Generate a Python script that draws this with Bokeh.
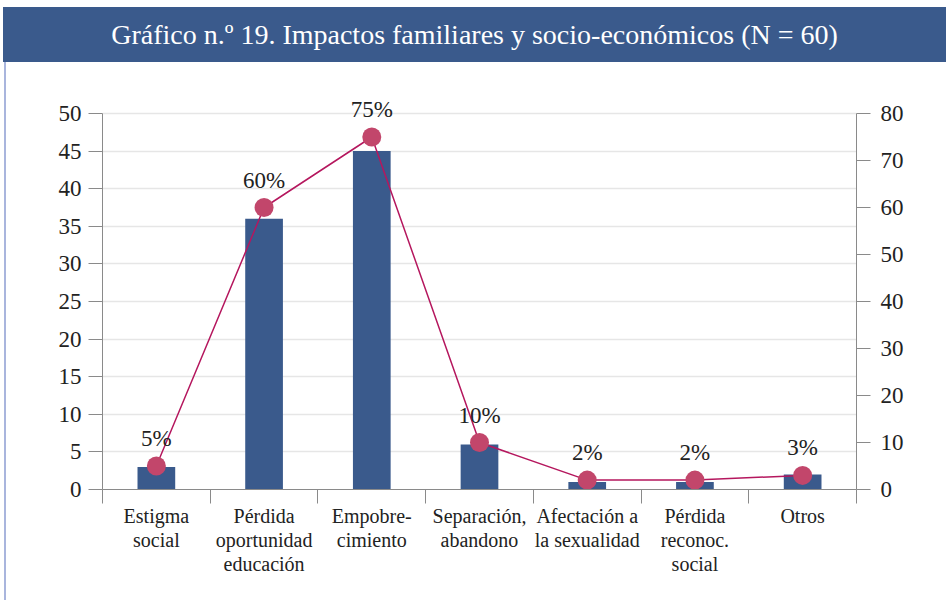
from bokeh.plotting import figure
from bokeh.models import Div, Range1d, LinearAxis, FixedTicker, ColumnDataSource, LabelSet
from bokeh.layouts import column, row
from bokeh.embed import file_html
from bokeh.resources import INLINE

categories = ["Estigma\nsocial", "Pérdida\noportunidad\neducación", "Empobre-\ncimiento",
              "Separación,\nabandono", "Afectación a\nla sexualidad", "Pérdida\nreconoc.\nsocial", "Otros"]
counts = [3, 36, 45, 6, 1, 1, 2]
percents = [5, 60, 75, 10, 2, 2, 3]
pct_labels = ["5%", "60%", "75%", "10%", "2%", "2%", "3%"]
left_ticks = [0, 5, 10, 15, 20, 25, 30, 35, 40, 45, 50]
right_ticks = [0, 10, 20, 30, 40, 50, 60, 70, 80]
title_text = "Gráfico n.º 19. Impactos familiares y socio-económicos (N = 60)"

FONT = "Liberation Serif"
BLUE = "#3a5a8c"

# layout: axis span 0..50 occupies 376 px; extra headroom above for the labels
AXIS_PX = 376
FRAME_PX = 399
left_max = 50
right_max = 80
left_end = left_max * FRAME_PX / AXIS_PX
right_end = right_max * FRAME_PX / AXIS_PX

xs = list(range(len(categories)))
src = ColumnDataSource(dict(x=xs, counts=counts, pct=percents, lab=pct_labels))

p = figure(width=940, height=538, output_backend="svg", toolbar_location=None,
           x_range=Range1d(-0.5, len(categories) - 0.5), y_range=Range1d(0, left_end),
           min_border_left=96, min_border_right=90, min_border_top=28, min_border_bottom=111)
p.outline_line_color = None
p.background_fill_color = "white"
p.border_fill_color = "white"
p.xgrid.grid_line_color = None
p.ygrid.grid_line_color = "#e6e6e6"
p.ygrid.grid_line_width = 1.5
p.ygrid.ticker = FixedTicker(ticks=left_ticks)

p.extra_y_ranges = {"right": Range1d(0, right_end)}

# bars
p.vbar(x="x", top="counts", width=0.35, source=src, fill_color=BLUE, line_color=None)
# line + markers
p.line(x="x", y="pct", source=src, y_range_name="right", line_color="#b5175e", line_width=1.5)
p.scatter(x="x", y="pct", source=src, y_range_name="right", size=19,
          fill_color="#c2466b", line_color=None)
labels = LabelSet(x="x", y="pct", text="lab", source=src, y_range_name="right",
                  text_align="center", text_baseline="alphabetic", y_offset=20,
                  text_font=FONT, text_font_size="23px", text_color="#222222")
p.add_layout(labels)

axis_color = "#8a8a8a"

# left axis
ya = p.yaxis[0]
ya.ticker = FixedTicker(ticks=left_ticks)
ya.bounds = (0, left_max)
ya.axis_line_color = axis_color
ya.major_tick_line_color = axis_color
ya.major_tick_out = 14
ya.major_tick_in = 0
ya.minor_tick_line_color = None
ya.major_label_standoff = 7
ya.major_label_text_font = FONT
ya.major_label_text_font_size = "23px"
ya.major_label_text_color = "#222222"

# right axis
ra = LinearAxis(y_range_name="right", ticker=FixedTicker(ticks=right_ticks), bounds=(0, right_max))
ra.axis_line_color = axis_color
ra.major_tick_line_color = axis_color
ra.major_tick_out = 14
ra.major_tick_in = 0
ra.minor_tick_line_color = None
ra.major_label_standoff = 10
ra.major_label_text_font = FONT
ra.major_label_text_font_size = "23px"
ra.major_label_text_color = "#222222"
p.add_layout(ra, "right")

# x axis
xa = p.xaxis[0]
xa.ticker = FixedTicker(ticks=xs, minor_ticks=[i - 0.5 for i in range(len(categories) + 1)])
xa.major_label_overrides = {i: c for i, c in zip(xs, categories)}
xa.axis_line_color = axis_color
xa.major_tick_line_color = None
xa.major_tick_out = 0
xa.major_tick_in = 0
xa.minor_tick_line_color = axis_color
xa.minor_tick_out = 14
xa.minor_tick_in = 0
xa.major_label_standoff = 1
xa.major_label_text_font = FONT
xa.major_label_text_font_size = "20px"
xa.major_label_text_color = "#222222"
xa.major_label_text_line_height = 1.1

title = Div(text=title_text, width=943, height=55, margin=(7, 0, 0, 3),
            styles={"background-color": BLUE, "color": "white", "font-family": FONT,
                    "font-size": "28px", "text-align": "center", "line-height": "55px",
                    "display": "block"})
border = Div(text="", width=2, height=538, margin=(0, 0, 0, 4),
             styles={"background-color": "#a9b5dd"})

layout = column(title, row(border, p, spacing=0), spacing=0)

open("out.html", "w").write(file_html(layout, INLINE))
